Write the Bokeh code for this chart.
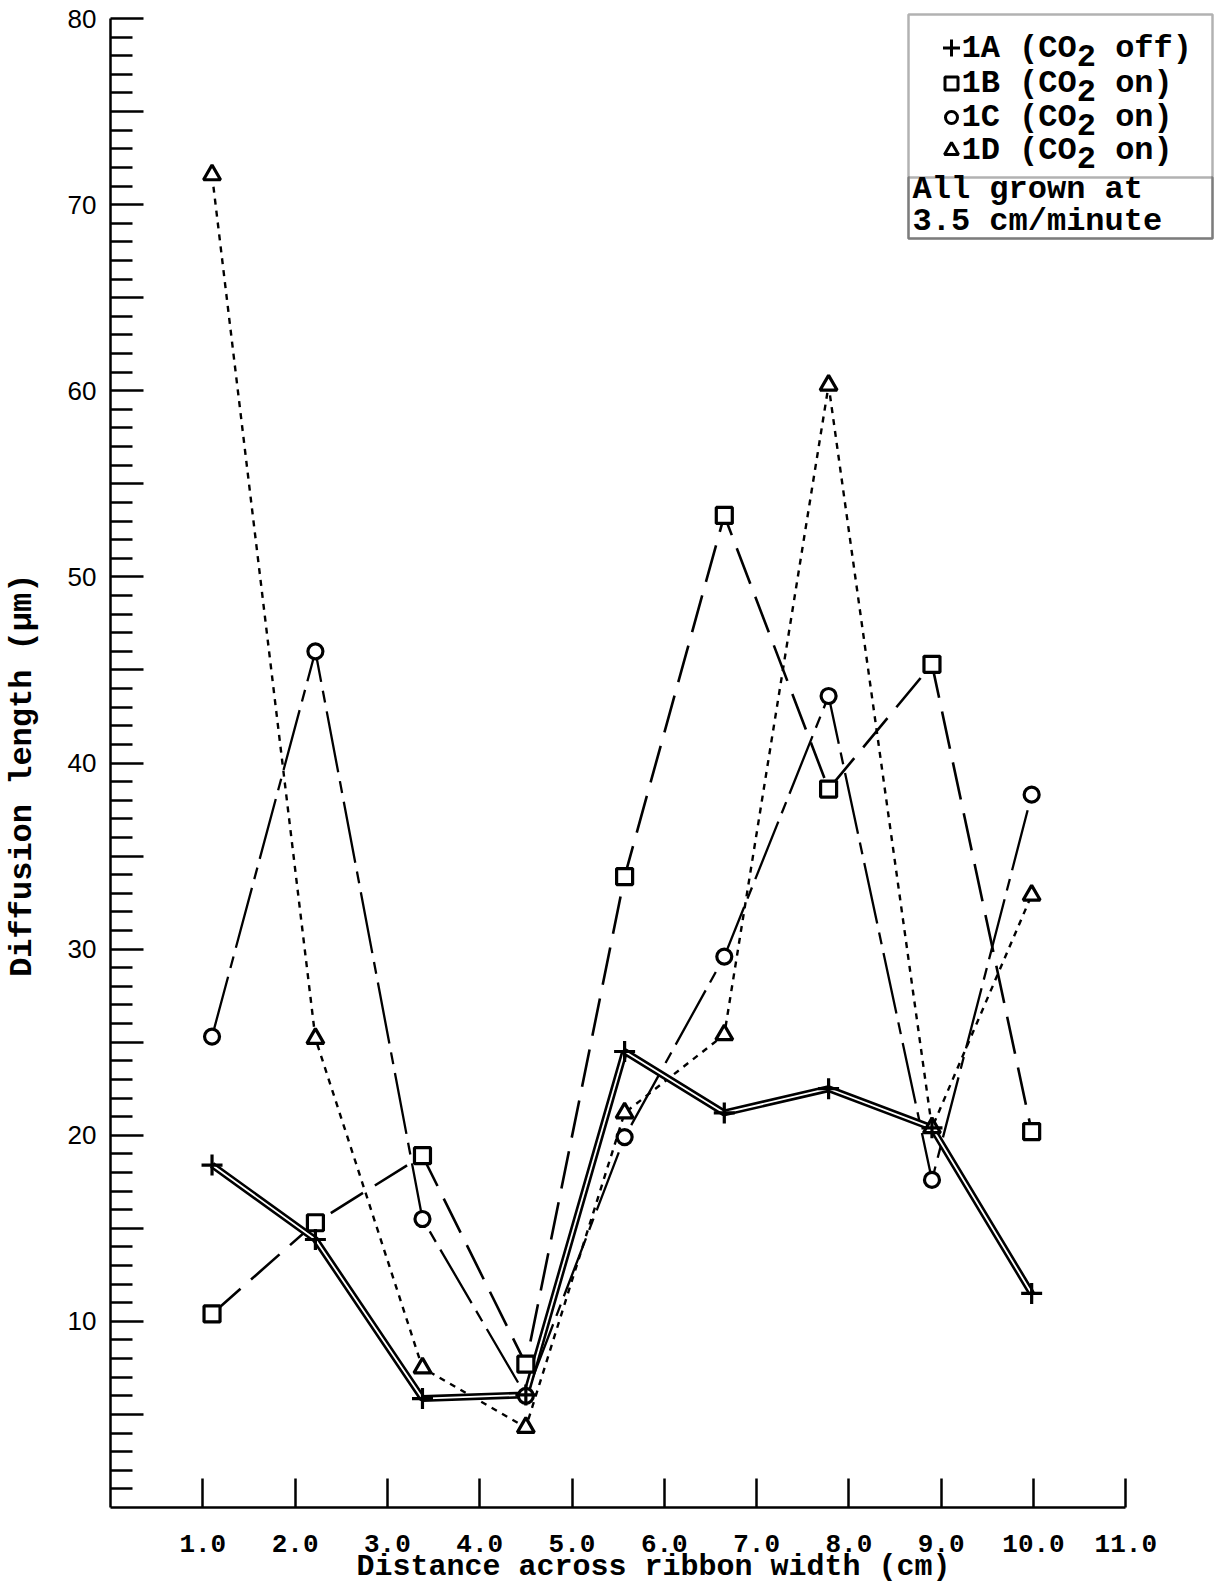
from bokeh.plotting import figure
from bokeh.models import Range1d, FixedTicker, PrintfTickFormatter, Label, BoxAnnotation
from bokeh.embed import file_html
from bokeh.resources import INLINE

# ---------------- data ----------------
distance_cm = [1.1, 2.22, 3.38, 4.5, 5.57, 6.65, 7.78, 8.9, 9.98]
diff_1A = [18.4, 14.4, 5.85, 6.05, 24.5, 21.2, 22.5, 20.4, 11.5]
diff_1B = [10.4, 15.3, 18.9, 7.7, 33.9, 53.3, 38.6, 45.3, 20.2]
diff_1C = [25.3, 46.0, 15.5, 6.0, 19.9, 29.6, 43.6, 17.6, 38.3]
diff_1D = [71.6, 25.2, 7.5, 4.3, 21.2, 25.4, 60.3, 20.4, 32.9]

x_ticks = [1, 2, 3, 4, 5, 6, 7, 8, 9, 10, 11]
y_major = [5, 10, 15, 20, 25, 30, 35, 40, 45, 50, 55, 60, 65, 70, 75, 80]
y_minor = [v for v in range(1, 80) if v % 5 != 0]
y_labelled = [10, 20, 30, 40, 50, 60, 70, 80]

series_names = ["1A", "1B", "1C", "1D"]
series_state = ["off", "on", "on", "on"]
series_markers = ["cross", "square", "circle", "triangle"]
note_lines = ["All grown at", "3.5 cm/minute"]
x_title = "Distance across ribbon width (cm)"
y_title = "Diffusion length (\u03bcm)"

# ---------------- layout (page pixels; the page has no margin) ----------------
W, H = 1214, 1586
FL = 110                    # frame left
FT = 4                      # frame top
FB = 1507                   # frame bottom (y = 0)
FW = W - FL
FH = FB - FT
XS = 92.3                   # px per cm
YS = (FB - 18) / 80.0       # px per micrometre (80 sits at y=18)
X_END = FW / XS
Y_END = FH / YS

def dx(px):  # page px -> data x
    return (px - FL) / XS

def dy(py):  # page px -> data y
    return (FB - py) / YS

MONO = "Liberation Mono"
NB = "\u00a0"

p = figure(width=W, height=H,
           x_range=Range1d(0, X_END), y_range=Range1d(0, Y_END),
           output_backend="svg", toolbar_location=None,
           min_border_left=FL, min_border_right=0, min_border_top=FT,
           min_border_bottom=H - FB)
p.outline_line_color = None
p.xgrid.visible = False
p.ygrid.visible = False
p.background_fill_color = "white"
p.border_fill_color = "white"

# x axis
xa = p.xaxis[0]
xa.ticker = FixedTicker(ticks=x_ticks)
xa.formatter = PrintfTickFormatter(format="%.1f")
xa.bounds = (0, 11)
xa.axis_line_width = 2.5
xa.axis_line_color = "black"
xa.major_tick_in = 29
xa.major_tick_out = 0
xa.minor_tick_in = 0
xa.minor_tick_out = 0
xa.major_tick_line_width = 2.5
xa.major_label_standoff = 27
xa.major_label_text_font = MONO
xa.major_label_text_font_size = "26px"
xa.major_label_text_font_style = "bold"
xa.major_label_text_color = "black"
xa.axis_label = x_title + NB
xa.axis_label_text_font = MONO
xa.axis_label_text_font_size = "30px"
xa.axis_label_text_font_style = "bold"
xa.axis_label_text_color = "black"
xa.axis_label_standoff = -5

# y axis
ya = p.yaxis[0]
ya.ticker = FixedTicker(ticks=y_major, minor_ticks=y_minor)
ya.major_label_overrides = {v: (str(v) if v in y_labelled else "") for v in y_major}
ya.bounds = (0, 80)
ya.axis_line_width = 2.5
ya.axis_line_color = "black"
ya.major_tick_in = 33
ya.major_tick_out = 0
ya.minor_tick_in = 22
ya.minor_tick_out = 0
ya.major_tick_line_width = 2.5
ya.minor_tick_line_width = 2.5
ya.minor_tick_line_color = "black"
ya.major_label_standoff = 14
ya.major_label_text_font = "Liberation Sans"
ya.major_label_text_font_size = "26px"
ya.major_label_text_color = "black"
ya.axis_label = y_title + NB + NB
ya.axis_label_text_font = MONO
ya.axis_label_text_font_size = "32px"
ya.axis_label_text_font_style = "bold"
ya.axis_label_text_color = "black"
ya.axis_label_standoff = 24

# ---------------- series lines ----------------
p.line(distance_cm, diff_1B, line_color="black", line_width=2.6, line_dash="38 14")
p.line(distance_cm, diff_1C, line_color="black", line_width=2.3, line_dash="62 9 12 9")
p.line(distance_cm, diff_1D, line_color="black", line_width=2.4, line_dash="6 6")
p.line(distance_cm, diff_1A, line_color="black", line_width=7)
p.line(distance_cm, diff_1A, line_color="white", line_width=1.8)

# ---------------- markers ----------------
p.scatter(distance_cm, diff_1B, marker="square", size=16, fill_color="white",
          line_color="black", line_width=3.2)
p.scatter(distance_cm, diff_1C, marker="circle", size=15, fill_color="white",
          line_color="black", line_width=3.2)
p.scatter(distance_cm, diff_1D, marker="triangle", size=17, fill_color="white",
          line_color="black", line_width=3.2)
p.scatter(distance_cm, diff_1A, marker="cross", size=21, line_color="black", line_width=3.2)

# ---------------- legend box ----------------
p.add_layout(BoxAnnotation(left=dx(908), right=dx(1212), top=dy(14), bottom=dy(238),
                           fill_color="white", fill_alpha=1.0, level="underlay",
                           line_color="black", line_width=2.5))
p.add_layout(BoxAnnotation(left=dx(908), right=dx(1212), top=dy(177), bottom=dy(238),
                           fill_color=None, fill_alpha=0.0, level="underlay",
                           line_color="black", line_width=2.5))

row_y = [47.5, 83, 117, 150]
p.scatter([dx(951)] * 4, [dy(v) for v in row_y], marker=series_markers,
          size=[17, 13, 12, 14], fill_color="white", line_color="black", line_width=3)

CW = 0.6 * 32
for name, state, ry in zip(series_names, series_state, row_y):
    p.add_layout(Label(x=dx(961), y=dy(ry), text=f"{name}{NB}(CO{NB}{NB}{state})",
                       text_font=MONO, text_font_size="32px", text_font_style="bold",
                       text_color="black", text_baseline="middle", text_align="left"))
    p.add_layout(Label(x=dx(961 + 6 * CW), y=dy(ry + 7), text="2",
                       text_font=MONO, text_font_size="32px", text_font_style="bold",
                       text_color="black", text_baseline="middle", text_align="left"))

for line, ry in zip(note_lines, [189, 220.5]):
    p.add_layout(Label(x=dx(912), y=dy(ry), text=line.replace(" ", NB),
                       text_font=MONO, text_font_size="32px", text_font_style="bold",
                       text_color="black", text_baseline="middle", text_align="left"))

open("out.html", "w").write(file_html(p, INLINE))
